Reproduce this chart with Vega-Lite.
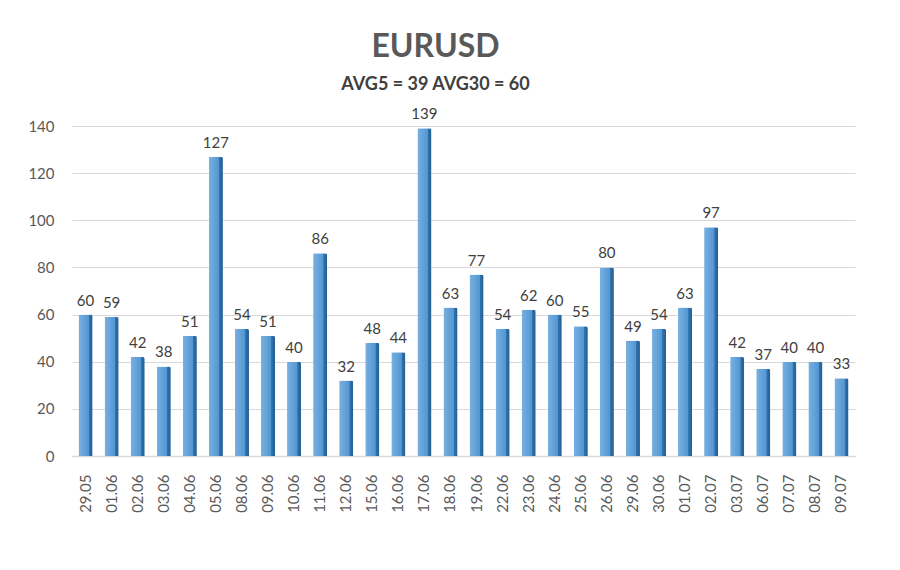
{
  "$schema": "https://vega.github.io/schema/vega-lite/v6.json",
  "width": 783,
  "height": 330,
  "autosize": {"type": "none"},
  "padding": {"left": 72, "top": 126, "right": 45, "bottom": 114},
  "background": "white",
  "title": {
    "text": "EURUSD",
    "subtitle": "AVG5 = 39 AVG30 = 60",
    "anchor": "middle",
    "dx": -28,
    "offset": 12,
    "font": "Lato",
    "fontSize": 32,
    "fontWeight": "bold",
    "color": "#595959",
    "subtitleFont": "Lato",
    "subtitleFontSize": 18,
    "subtitleFontWeight": "bold",
    "subtitleColor": "#404040",
    "subtitlePadding": 12
  },
  "data": {
    "values": [
      {"date": "29.05", "value": 60},
      {"date": "01.06", "value": 59},
      {"date": "02.06", "value": 42},
      {"date": "03.06", "value": 38},
      {"date": "04.06", "value": 51},
      {"date": "05.06", "value": 127},
      {"date": "08.06", "value": 54},
      {"date": "09.06", "value": 51},
      {"date": "10.06", "value": 40},
      {"date": "11.06", "value": 86},
      {"date": "12.06", "value": 32},
      {"date": "15.06", "value": 48},
      {"date": "16.06", "value": 44},
      {"date": "17.06", "value": 139},
      {"date": "18.06", "value": 63},
      {"date": "19.06", "value": 77},
      {"date": "22.06", "value": 54},
      {"date": "23.06", "value": 62},
      {"date": "24.06", "value": 60},
      {"date": "25.06", "value": 55},
      {"date": "26.06", "value": 80},
      {"date": "29.06", "value": 49},
      {"date": "30.06", "value": 54},
      {"date": "01.07", "value": 63},
      {"date": "02.07", "value": 97},
      {"date": "03.07", "value": 42},
      {"date": "06.07", "value": 37},
      {"date": "07.07", "value": 40},
      {"date": "08.07", "value": 40},
      {"date": "09.07", "value": 33}
    ]
  },
  "encoding": {
    "x": {
      "field": "date",
      "type": "nominal",
      "sort": null,
      "scale": {"paddingInner": 0.46, "paddingOuter": 0.25},
      "axis": {
        "title": null,
        "labelAngle": -90,
        "labelAlign": "right",
        "labelBaseline": "middle",
        "labelFont": "Lato",
        "labelFontSize": 15,
        "labelColor": "#595959",
        "labelPadding": 18,
        "ticks": false,
        "domain": true,
        "domainColor": "#D9D9D9",
        "domainWidth": 1.5,
        "grid": false
      }
    },
    "y": {
      "field": "value",
      "type": "quantitative",
      "scale": {"domain": [0, 140], "nice": false},
      "axis": {
        "title": null,
        "values": [0, 20, 40, 60, 80, 100, 120, 140],
        "labelFont": "Lato",
        "labelFontSize": 15,
        "labelColor": "#595959",
        "labelPadding": 18,
        "ticks": false,
        "domain": false,
        "grid": true,
        "gridColor": "#D9D9D9",
        "gridWidth": 1
      }
    }
  },
  "layer": [
    {
      "mark": {
        "type": "bar",
        "color": {
          "x1": 0, "y1": 0, "x2": 1, "y2": 0,
          "gradient": "linear",
          "stops": [
            {"offset": 0, "color": "#7AB0E0"},
            {"offset": 0.5, "color": "#5E9FD8"},
            {"offset": 0.72, "color": "#5595D0"},
            {"offset": 0.75, "color": "#3173AC"},
            {"offset": 1, "color": "#215D92"}
          ]
        },
        "cornerRadiusTopRight": 2,
        "cornerRadiusTopLeft": 1
      }
    },
    {
      "mark": {
        "type": "text",
        "baseline": "alphabetic",
        "dy": -9,
        "font": "Lato",
        "fontSize": 15,
        "color": "#404040"
      },
      "encoding": {"text": {"field": "value", "type": "quantitative"}}
    }
  ],
  "config": {"view": {"stroke": null}}
}
